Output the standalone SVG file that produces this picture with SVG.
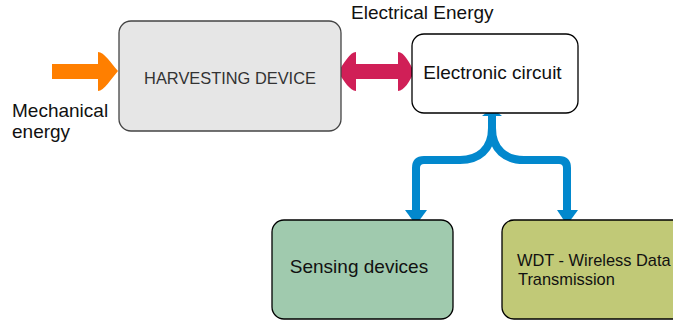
<svg xmlns="http://www.w3.org/2000/svg" width="673" height="322" viewBox="0 0 673 322">
<style>
text{font-family:"Liberation Sans",Arial,Helvetica,sans-serif;fill:#111}
.box{stroke:#000;stroke-width:1.3}
.blue{fill:none;stroke:#0288CD;stroke-width:8;stroke-linejoin:round}
.bhead{fill:#0288CD}
</style>
<rect width="673" height="322" fill="#fff"/>
<g id="connectors">
<path d="M52,64 H98 V52 C104,52 111,63 118,71 C111,79 104,91 98,91 V79 H52 Z" fill="#FF7F00"/>
<path d="M338,72 C344,63 350,52 356,52 V64 H398 V52 C404,52 410,63 414,72 C410,81 404,91 398,91 V79 H356 V91 C350,91 344,81 338,72 Z" fill="#D01F57"/>
<path class="blue" d="M492,114 V128 C492,150 478,160 460,160 H424 Q416,160 416,168 V212"/>
<path class="blue" d="M492,128 C492,150 506,160 524,160 H559 Q567,160 567,168 V212"/>
<path class="bhead" d="M492,108 L502,116 H482 Z"/>
<path class="bhead" d="M405,210 H427 L416,225 Z"/>
<path class="bhead" d="M557,210 H578 L567,225 Z"/>
</g>
<g id="harvesting">
<rect x="119" y="21" width="222" height="110" rx="12" fill="#E6E6E6" stroke="#444" stroke-width="1.3"/>
<text x="230" y="84" font-size="16.4" text-anchor="middle" style="fill:#333">HARVESTING DEVICE</text>
</g>
<g id="electronic">
<rect x="412" y="34" width="166" height="79" rx="12" fill="#fff" class="box"/>
<text x="492.5" y="79" font-size="19" text-anchor="middle">Electronic circuit</text>
</g>
<g id="sensing">
<rect x="272" y="220" width="181" height="99" rx="12" fill="#A0CAAE" class="box"/>
<text x="359" y="273" font-size="19" text-anchor="middle">Sensing devices</text>
</g>
<g id="wdt">
<rect x="502" y="220" width="190" height="99" rx="12" fill="#C1C977" class="box"/>
<text x="517" y="266" font-size="16.4">WDT - Wireless Data</text>
<text x="518" y="285" font-size="16.4">Transmission</text>
</g>
<g id="labels">
<text x="351" y="19" font-size="19">Electrical Energy</text>
<text x="12" y="117" font-size="19">Mechanical</text>
<text x="12" y="138" font-size="19">energy</text>
</g>
</svg>
